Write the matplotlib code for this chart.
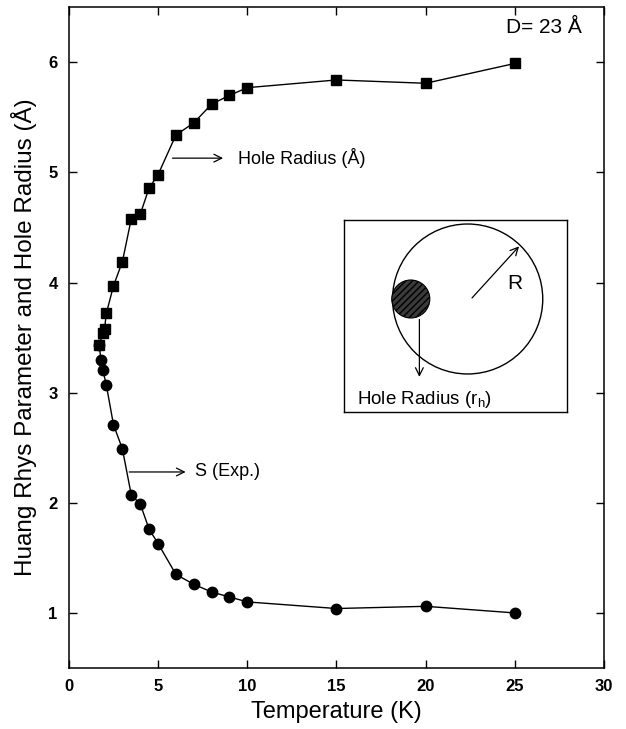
import matplotlib
matplotlib.use("Agg")
import matplotlib.pyplot as plt
from matplotlib.patches import Circle

plt.rcParams['font.family'] = ['Liberation Sans', 'DejaVu Sans']

# hole radius (squares)
t_hole = [1.7, 1.9, 2.0, 2.1, 2.5, 3.0, 3.5, 4.0, 4.5, 5.0, 6.0, 7.0, 8.0, 9.0, 10.0, 15.0, 20.0, 25.0]
r_hole = [3.43, 3.54, 3.58, 3.72, 3.97, 4.19, 4.58, 4.62, 4.86, 4.98, 5.34, 5.45, 5.62, 5.70, 5.77, 5.84, 5.81, 5.99]

# Huang Rhys parameter S (circles)
t_s = [1.7, 1.8, 1.9, 2.1, 2.5, 3.0, 3.5, 4.0, 4.5, 5.0, 6.0, 7.0, 8.0, 9.0, 10.0, 15.0, 20.0, 25.0]
s_exp = [3.43, 3.30, 3.21, 3.07, 2.71, 2.49, 2.07, 1.99, 1.76, 1.63, 1.35, 1.26, 1.19, 1.145, 1.10, 1.04, 1.06, 1.0]

x_ticks = [0, 5, 10, 15, 20, 25, 30]
y_ticks = [1, 2, 3, 4, 5, 6]

fig = plt.figure(figsize=(6.26, 7.29), dpi=100)
ax = fig.add_axes([0.110, 0.0837, 0.855, 0.9063])

ax.plot(t_hole, r_hole, '-s', color='black', lw=1.0, markersize=7.5)
ax.plot(t_s, s_exp, '-o', color='black', lw=1.0, markersize=7.5)

ax.set_xlim(0, 30)
ax.set_ylim(0.5, 6.5)
ax.set_xticks(x_ticks)
ax.set_yticks(y_ticks)
ax.tick_params(direction='in', length=6, width=1, top=True, right=True,
               labelsize=12, pad=8)
for lab in ax.get_xticklabels() + ax.get_yticklabels():
    lab.set_fontweight('bold')
for sp in ax.spines.values():
    sp.set_linewidth(1.1)

ax.set_xlabel('Temperature (K)', fontsize=17, labelpad=5)
ax.set_ylabel('Huang Rhys Parameter and Hole Radius (\u00c5)', fontsize=17.5, labelpad=8)

arrow = dict(arrowstyle='->', color='black', lw=0.9, mutation_scale=14)

# annotations
ax.annotate('', xy=(8.8, 5.13), xytext=(5.65, 5.13), arrowprops=arrow)
ax.text(9.5, 5.13, 'Hole Radius (\u00c5)', fontsize=13, va='center', ha='left')
ax.annotate('', xy=(6.7, 2.28), xytext=(3.23, 2.28), arrowprops=arrow)
ax.text(7.05, 2.28, 'S (Exp.)', fontsize=13, va='center', ha='left')
ax.text(24.5, 6.32, 'D= 23 \u00c5', fontsize=15, va='center', ha='left')

# inset schematic (pixel-like coordinates inside the box)
ins = fig.add_axes([0.5495, 0.4353, 0.3567, 0.2629])
ins.set_xlim(0, 223)
ins.set_ylim(0, 191.7)
ins.set_xticks([])
ins.set_yticks([])
for sp in ins.spines.values():
    sp.set_linewidth(1.0)
ins.add_patch(Circle((123.5, 112.7), 75, fill=False, ec='black', lw=1.0))
ins.add_patch(Circle((66.7, 112.7), 19, fc='#3a3a3a', ec='black', lw=0.8, hatch='/////'))
ins.annotate('', xy=(176.7, 167.4), xytext=(126, 111.7), arrowprops=arrow)
ins.text(162.7, 128.4, 'R', fontsize=15, va='center', ha='left')
ins.annotate('', xy=(75.3, 32), xytext=(75.3, 95), arrowprops=arrow)
ins.text(13, 12.5, 'Hole Radius (r$_\\mathregular{h}$)', fontsize=13.5, va='center', ha='left')

fig.savefig('out.png', dpi=100)
